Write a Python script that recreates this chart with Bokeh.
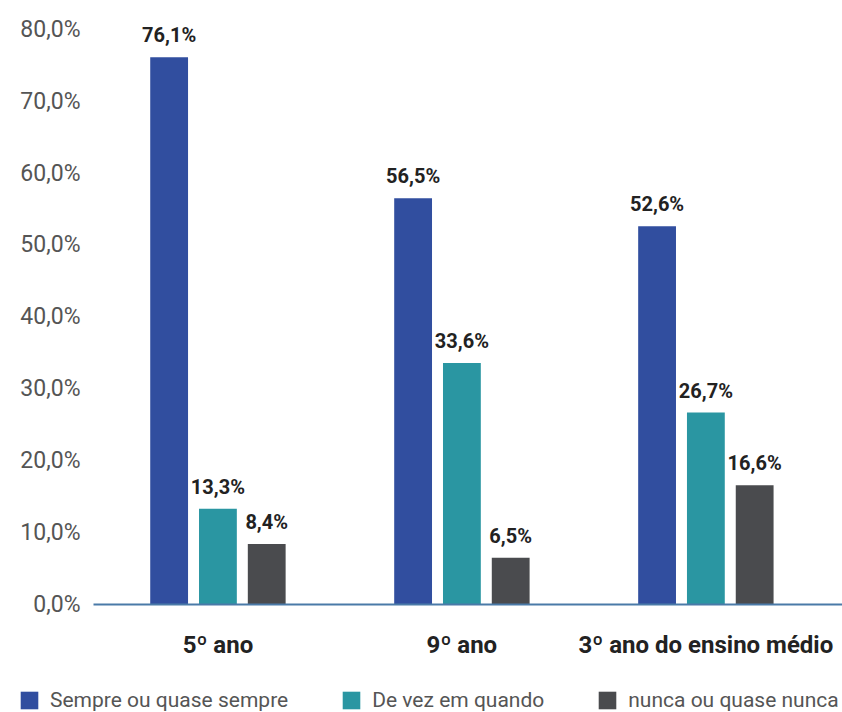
import numpy as np
from bokeh.plotting import figure
from bokeh.models import ColumnDataSource, Range1d, FixedTicker, Legend, LegendItem
from bokeh.core.properties import value
from bokeh.embed import file_html
from bokeh.resources import INLINE

categories = ["5º ano", "9º ano", "3º ano do ensino médio"]
series_names = ["Sempre ou quase sempre", "De vez em quando", "nunca ou quase nunca"]
sempre = [76.1, 56.5, 52.6]
de_vez = [13.3, 33.6, 26.7]
nunca = [8.4, 6.5, 16.6]
y_ticks = [0, 10, 20, 30, 40, 50, 60, 70, 80]
y_tick_labels = ["0,0%", "10,0%", "20,0%", "30,0%", "40,0%", "50,0%", "60,0%", "70,0%", "80,0%"]

colors = ["#314e9f", "#2a96a2", "#4a4b4e"]
offsets = [-0.2, 0.0, 0.2]
bar_w = 0.155

W, H = 842, 712
plot_left_px, base_px = 93, 604       # where the plotting area starts / where 0% sits
x0, x1 = -0.01, 3.06                   # data span of the plotting area
y_top = 84.0
sx = (W - plot_left_px) / (x1 - x0)
sy = base_px / y_top
x_start = x0 - plot_left_px / sx
y_start = -(H - base_px) / sy

p = figure(width=W, height=H, output_backend="svg", toolbar_location=None,
           x_range=Range1d(x_start, x1), y_range=Range1d(y_start, y_top),
           min_border=0)
p.outline_line_color = None
p.xgrid.visible = False
p.ygrid.visible = False

centers = np.arange(len(categories)) + 0.5
renderers = []
for vals, col, off in zip([sempre, de_vez, nunca], colors, offsets):
    src = ColumnDataSource(dict(x=centers + off, top=vals,
                                lab=[f"{v:.1f}".replace(".", ",") + "%" for v in vals]))
    r = p.vbar(x="x", top="top", bottom=0, width=bar_w, source=src,
               fill_color=col, line_color=None)
    renderers.append(r)
    p.text(x="x", y="top", text="lab", source=src, text_align="center",
           text_baseline="bottom", y_offset=-10, text_font=value("Roboto"),
           text_font_style="bold", text_font_size="20px", text_color="#222222")

# y axis (drawn at the left edge of the plotting area)
p.yaxis.fixed_location = x0
p.yaxis.ticker = FixedTicker(ticks=y_ticks)
p.yaxis.major_label_overrides = {t: l for t, l in zip(y_ticks, y_tick_labels)}
p.yaxis.axis_line_color = None
p.yaxis.major_tick_line_color = None
p.yaxis.minor_tick_line_color = None
p.yaxis.major_tick_out = 0
p.yaxis.major_tick_in = 0
p.yaxis.major_label_standoff = 13
p.yaxis.major_label_text_font = "Roboto"
p.yaxis.major_label_text_font_size = "23px"
p.yaxis.major_label_text_color = "#555555"

# x axis (drawn at 0%)
p.xaxis.fixed_location = 0
p.xaxis.bounds = (x0, x1)
p.xaxis.ticker = FixedTicker(ticks=list(centers))
p.xaxis.major_label_overrides = {float(c): n for c, n in zip(centers, categories)}
p.xaxis.axis_line_color = "#4a7aa8"
p.xaxis.axis_line_width = 2
p.xaxis.major_tick_line_color = None
p.xaxis.minor_tick_line_color = None
p.xaxis.major_tick_out = 0
p.xaxis.major_tick_in = 0
p.xaxis.major_label_standoff = 26
p.xaxis.major_label_text_font = "Roboto"
p.xaxis.major_label_text_font_style = "bold"
p.xaxis.major_label_text_font_size = "24px"
p.xaxis.major_label_text_color = "#222222"

legend = Legend(items=[LegendItem(label=n, renderers=[r]) for n, r in zip(series_names, renderers)],
                orientation="horizontal", location=(18, 0),
                glyph_width=22, glyph_height=22, label_height=22, label_standoff=10,
                spacing=52, padding=0, margin=0, border_line_alpha=0,
                background_fill_alpha=0, label_text_font="Roboto",
                label_text_font_size="21px", label_text_color="#555555")
p.add_layout(legend, "center")

open("out.html", "w").write(file_html(p, INLINE))
